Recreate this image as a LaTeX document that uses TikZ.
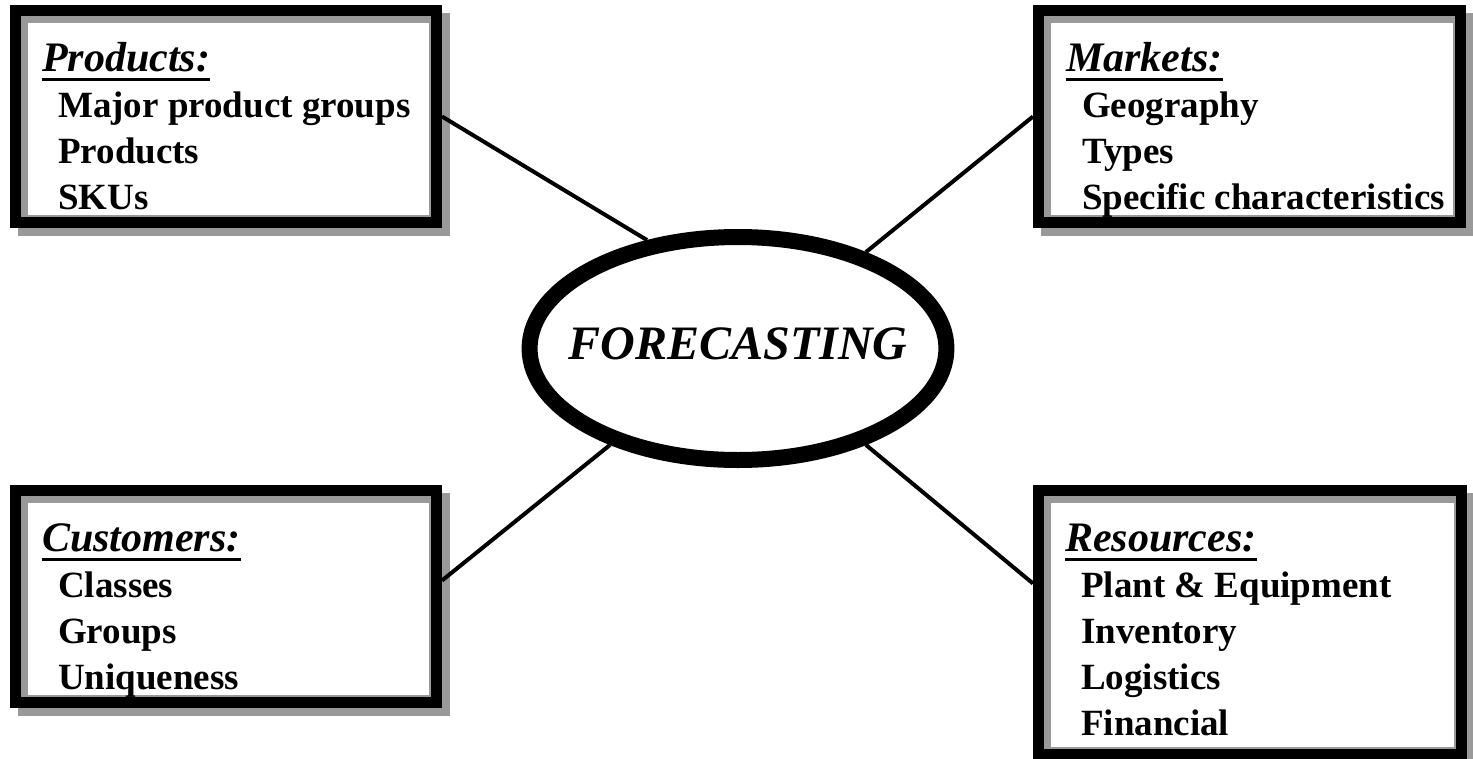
\documentclass[tikz,border=0pt]{standalone}
\usepackage{fontspec}
\setmainfont{Liberation Serif}
\usepackage{tikz}
\usetikzlibrary{shapes.geometric, backgrounds}

\newcommand{\hdr}[1]{\setbox0\hbox{\fontsize{42}{46}\selectfont\bfseries\itshape #1}\rule{0pt}{30pt}\rlap{\rule[-10pt]{\wd0}{3pt}}\box0}
\newcommand{\itm}{\hspace*{16pt}}

\begin{document}
\begin{tikzpicture}[x=1pt, y=-1pt,
  box/.style={draw, line width=11pt, fill=white, anchor=north west, inner sep=0pt,
    path picture={
      \fill[black!40] (path picture bounding box.north west) rectangle (path picture bounding box.south east);
      \fill[white] ([shift={(12.5pt,-12.5pt)}]path picture bounding box.north west)
        rectangle ([shift={(-7.5pt,7.5pt)}]path picture bounding box.south east);
    }},
  boxtext/.style={anchor=north west, inner sep=0pt, align=left, font=\fontsize{37}{46}\selectfont\bfseries},
  link/.style={line width=4pt}]
  \useasboundingbox (0,0) rectangle (1473,758);

  \node[box, minimum width=421pt, minimum height=212pt] (prod) at (10,5) {};
  \node[box, minimum width=422pt, minimum height=212pt] (mark) at (1033,5) {};
  \node[box, minimum width=421pt, minimum height=212pt] (cust) at (10,485) {};
  \node[box, minimum width=423pt, minimum height=264pt] (res) at (1033,485) {};

  \begin{scope}[on background layer]
    \foreach \b in {prod,mark,cust,res}
      \fill[black!40] ([shift={(8,8)}]\b.north west) rectangle ([shift={(8,8)}]\b.south east);
  \end{scope}

  \node[boxtext] (prodtxt) at ([shift={(32,36)}]prod.north west)
    {\hdr{Products:}\\ \itm Major product groups\\ \itm Products\\ \itm SKUs};
  \node[boxtext] (marktxt) at ([shift={(33,36)}]mark.north west)
    {\hdr{Markets:}\\ \itm Geography\\ \itm Types\\ \itm Specific characteristics};
  \node[boxtext] (custtxt) at ([shift={(32,36)}]cust.north west)
    {\hdr{Customers:}\\ \itm Classes\\ \itm Groups\\ \itm Uniqueness};
  \node[boxtext] (restxt) at ([shift={(32,36)}]res.north west)
    {\hdr{Resources:}\\ \itm Plant \& Equipment\\ \itm Inventory\\ \itm Logistics\\ \itm Financial};

  \node[ellipse, draw, line width=16pt, fill=white, minimum width=416pt, minimum height=223pt,
    inner xsep=-22pt, inner ysep=0pt, text depth=10pt, font=\fontsize{48}{48}\selectfont\bfseries\itshape] (fc) at (738,348.5) {FORECASTING};

  \draw[link] (prod.east) -- (fc.130);
  \draw[link] (mark.west) -- (fc.37);
  \draw[link] ([yshift=16pt]cust.east) -- (fc.217);
  \draw[link] ([yshift=39pt]res.west) -- (fc.-37);
\end{tikzpicture}
\end{document}
